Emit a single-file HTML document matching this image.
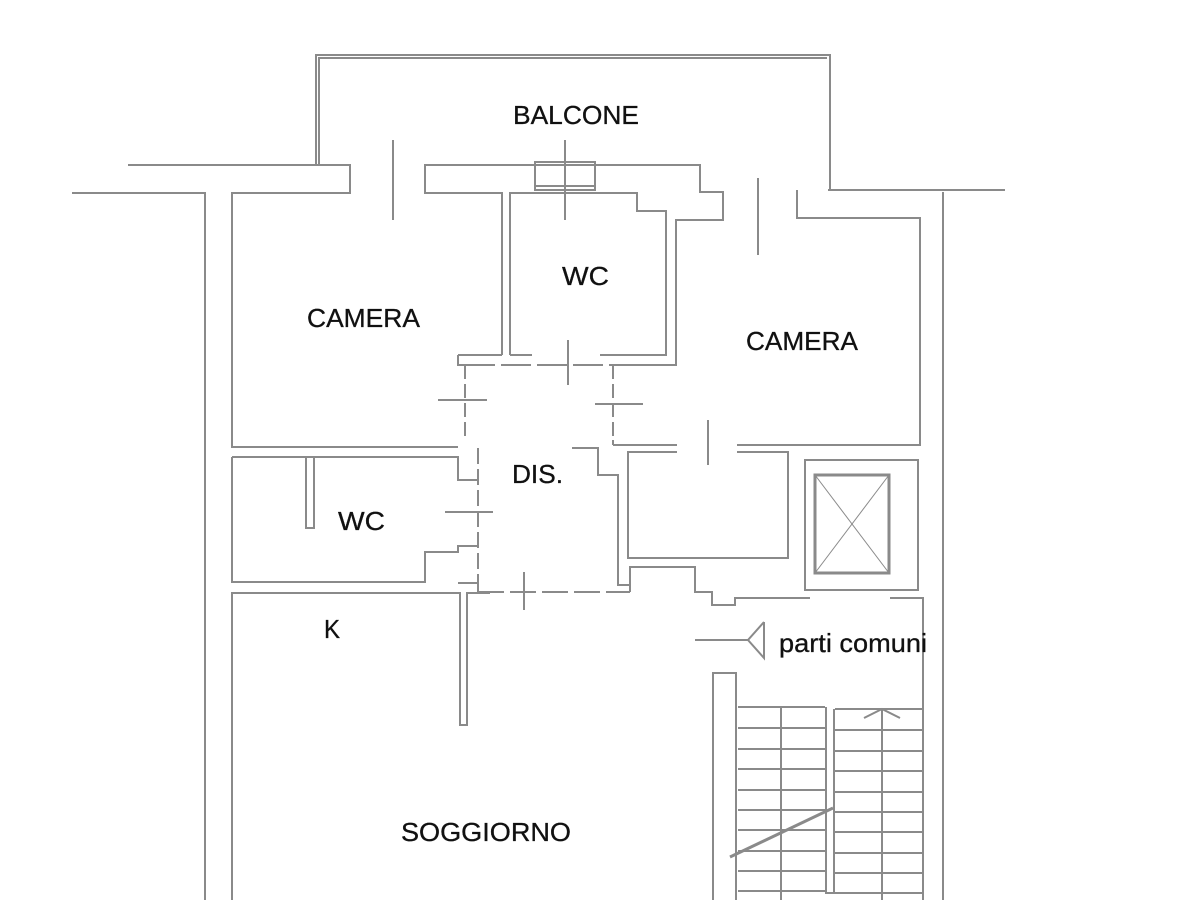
<!DOCTYPE html>
<html><head><style>
html,body{margin:0;padding:0;background:#fff;}
svg{display:block;}
text{font-family:"Liberation Sans",Arial,sans-serif;fill:#111;}
</style></head><body>
<svg width="1200" height="900" viewBox="0 0 1200 900" xmlns="http://www.w3.org/2000/svg">
<g fill="none" stroke="#8a8a8a" stroke-width="2">
<polyline points="316,165 316,55 830,55 830,190"/>
<polyline points="319,165 319,58 827,58"/>
<polyline points="128,165 350,165 350,193 232,193 232,447 458,447"/>
<polyline points="72,193 205,193 205,900"/>
<line x1="393" y1="140" x2="393" y2="220"/>
<polyline points="502,355 502,193 425,193 425,165 700,165 700,192 723,192 723,220 676,220 676,365 615,365"/>
<polyline points="510,355 510,193 637,193 637,211 666,211 666,355 600,355"/>
<line x1="458" y1="355" x2="502" y2="355"/>
<line x1="510" y1="355" x2="532" y2="355"/>
<rect x="535" y="162" width="60" height="28"/>
<line x1="535" y1="186" x2="595" y2="186"/>
<line x1="565" y1="140" x2="565" y2="220"/>
<polyline points="828,190 1005,190"/>
<polyline points="943,192 943,900"/>
<polyline points="797,190 797,218 920,218 920,445 737,445"/>
<line x1="613" y1="445" x2="677" y2="445"/>
<line x1="758" y1="178" x2="758" y2="255"/>
<line x1="708" y1="420" x2="708" y2="465"/>
<polyline points="458,355 458,365 465,365"/>
<line x1="465" y1="365" x2="465" y2="440" stroke-dasharray="14,5"/>
<line x1="465" y1="365" x2="615" y2="365" stroke-dasharray="30,6"/>
<line x1="613" y1="365" x2="613" y2="440" stroke-dasharray="14,5"/>
<polyline points="613,440 613,445"/>
<polyline points="572,448 598,448 598,475 618,475 618,585 630,585"/>
<line x1="478" y1="448" x2="478" y2="585" stroke-dasharray="16,5"/>
<line x1="478" y1="592" x2="630" y2="592" stroke-dasharray="26,6"/>
<polyline points="232,457 458,457 458,480 478,480"/>
<polyline points="306,457 306,528 314,528 314,457"/>
<polyline points="232,457 232,582 425,582 425,552 458,552 458,546 478,546"/>
<polyline points="458,583 478,583 478,592"/>
<polyline points="232,900 232,593 460,593 460,725 467,725 467,593 490,593"/>
<polyline points="677,452 628,452 628,558 788,558 788,452 737,452"/>
<polyline points="630,592 630,567 695,567 695,592 712,592 712,605 735,605 735,598 810,598"/>
<polyline points="890,598 923,598 923,900"/>
<rect x="805" y="460" width="113" height="130"/>
<rect x="815" y="475" width="74" height="98" stroke-width="3"/>
<line x1="815" y1="475" x2="889" y2="573" stroke-width="1"/>
<line x1="889" y1="475" x2="815" y2="573" stroke-width="1"/>
<line x1="438" y1="400" x2="487" y2="400"/>
<line x1="595" y1="404" x2="643" y2="404"/>
<line x1="445" y1="512" x2="493" y2="512"/>
<line x1="568" y1="340" x2="568" y2="385"/>
<line x1="524" y1="572" x2="524" y2="610"/>
<line x1="695" y1="640" x2="748" y2="640"/>
<polyline points="764,622 748,640 764,658 764,622"/>
<polyline points="713,900 713,673 736,673 736,900"/>
<polyline points="826,707 826,893 834,893 834,709"/>
<line x1="781" y1="707" x2="781" y2="900"/>
<line x1="882" y1="709" x2="882" y2="900"/>
<polyline points="864,718 882,709 900,718"/>
<line x1="730" y1="857" x2="833" y2="808" stroke-width="3"/>
</g>
<g stroke="#8a8a8a" stroke-width="2">
<line x1="738" y1="707" x2="825" y2="707"/><line x1="738" y1="728" x2="825" y2="728"/>
<line x1="738" y1="749" x2="825" y2="749"/><line x1="738" y1="769" x2="825" y2="769"/>
<line x1="738" y1="790" x2="825" y2="790"/><line x1="738" y1="810" x2="825" y2="810"/>
<line x1="738" y1="830" x2="825" y2="830"/><line x1="738" y1="851" x2="825" y2="851"/>
<line x1="738" y1="871" x2="825" y2="871"/><line x1="738" y1="891" x2="825" y2="891"/>
<line x1="835" y1="709" x2="923" y2="709"/><line x1="835" y1="730" x2="923" y2="730"/>
<line x1="835" y1="751" x2="923" y2="751"/><line x1="835" y1="771" x2="923" y2="771"/>
<line x1="835" y1="792" x2="923" y2="792"/><line x1="835" y1="812" x2="923" y2="812"/>
<line x1="835" y1="832" x2="923" y2="832"/><line x1="835" y1="853" x2="923" y2="853"/>
<line x1="835" y1="873" x2="923" y2="873"/><line x1="835" y1="893" x2="923" y2="893"/>
</g>
<g font-size="26" stroke="#111" stroke-width="0.3">
<text x="513" y="124" textLength="126" lengthAdjust="spacingAndGlyphs">BALCONE</text>
<text x="307" y="327" textLength="113" lengthAdjust="spacingAndGlyphs">CAMERA</text>
<text x="562" y="285" textLength="47" lengthAdjust="spacingAndGlyphs">WC</text>
<text x="746" y="350" textLength="112" lengthAdjust="spacingAndGlyphs">CAMERA</text>
<text x="512" y="483" textLength="51" lengthAdjust="spacingAndGlyphs">DIS.</text>
<text x="338" y="530" textLength="47" lengthAdjust="spacingAndGlyphs">WC</text>
<text x="324" y="638" textLength="16" lengthAdjust="spacingAndGlyphs">K</text>
<text x="401" y="841" textLength="170" lengthAdjust="spacingAndGlyphs">SOGGIORNO</text>
<text x="779" y="652" textLength="148" lengthAdjust="spacingAndGlyphs">parti comuni</text>
</g>
</svg>
</body></html>
